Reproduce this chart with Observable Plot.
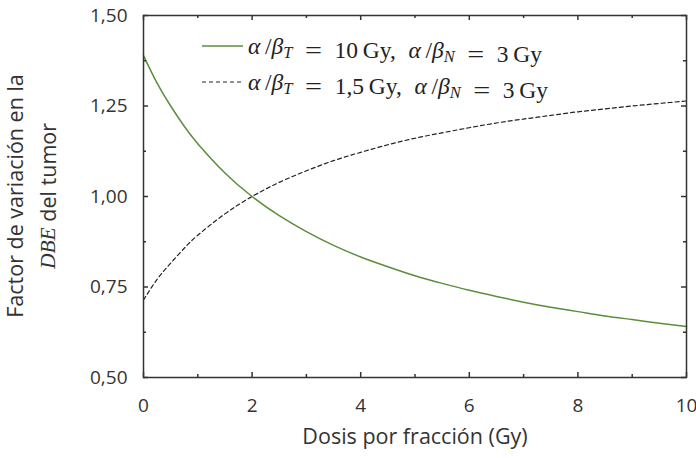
<!DOCTYPE html>
<html><head><meta charset="utf-8">
<script src="https://cdn.jsdelivr.net/npm/d3@7"></script>
<script src="https://cdn.jsdelivr.net/npm/@observablehq/plot@0.6"></script>
<style>body{margin:0;background:#fff}svg{display:block}</style>
</head><body><div id="chart"></div>
<script>
const dose = [0,0.25,0.5,0.75,1,1.5,2,2.5,3,3.5,4,4.5,5,5.5,6,6.5,7,7.5,8,8.5,9,9.5,10];
const seriesA = [1.389,1.313,1.250,1.194,1.146,1.065,1.000,0.947,0.903,0.865,0.833,0.806,0.781,0.760,0.741,0.724,0.708,0.694,0.682,0.670,0.660,0.650,0.641];
const seriesB = [0.714,0.771,0.816,0.857,0.893,0.952,1.000,1.039,1.071,1.099,1.122,1.143,1.161,1.176,1.190,1.203,1.214,1.224,1.234,1.242,1.250,1.257,1.264];
const xMajor = [0,2,4,6,8,10];
const xMinor = [1,3,5,7,9];
const yMajor = [0.5,0.75,1,1.25,1.5];
const yMinor = [0.625,0.875,1.125,1.375];
const xLabel = "Dosis por fracción (Gy)";
const yLabel1 = "Factor de variación en la";
const legendT = ["10", "1,5"];
const legendN = ["3", "3"];

const W = 696, H = 458, mL = 143, mR = 10, mT = 15, mB = 81;
const ph = H - mT - mB, pw = W - mL - mR;
const sans = "'Open Sans', sans-serif";
const fs = 19, fsTitle = 21.5;
const axisColor = "#333";
const fmt = d => d3.format(".2f")(d).replace(".", ",");

const dataA = dose.map((d,i) => ({x:d, y:seriesA[i]}));
const dataB = dose.map((d,i) => ({x:d, y:seriesB[i]}));

const plot = Plot.plot({
  width: W, height: H,
  marginLeft: mL, marginRight: mR, marginTop: mT, marginBottom: mB,
  style: {fontFamily: sans, fontSize: fs + "px", color: "#333", background: "#fff"},
  x: {domain: [0,10]},
  y: {domain: [0.5,1.5]},
  marks: [
    Plot.line(dataB, {x:"x", y:"y", stroke:"#222", strokeWidth:1.2, strokeDasharray:"4,3", curve:"natural"}),
    Plot.line(dataA, {x:"x", y:"y", stroke:"#5b8e3b", strokeWidth:1.5, curve:"natural"}),
    Plot.frame({stroke: axisColor, strokeWidth: 1.5}),
    Plot.tickX(xMajor, {x: d=>d, insetTop: ph-5, stroke: axisColor, strokeWidth:1.5}),
    Plot.tickX(xMajor, {x: d=>d, insetBottom: ph-5, stroke: axisColor, strokeWidth:1.5}),
    Plot.tickX(xMinor, {x: d=>d, insetTop: ph-3, stroke: axisColor, strokeWidth:1.5}),
    Plot.tickX(xMinor, {x: d=>d, insetBottom: ph-3, stroke: axisColor, strokeWidth:1.5}),
    Plot.tickY(yMajor, {y: d=>d, insetRight: pw-5, stroke: axisColor, strokeWidth:1.5}),
    Plot.tickY(yMajor, {y: d=>d, insetLeft: pw-5, stroke: axisColor, strokeWidth:1.5}),
    Plot.tickY(yMinor, {y: d=>d, insetRight: pw-3, stroke: axisColor, strokeWidth:1.5}),
    Plot.tickY(yMinor, {y: d=>d, insetLeft: pw-3, stroke: axisColor, strokeWidth:1.5}),
    Plot.axisX(xMajor, {tickSize:0, tickPadding: 21, tickFormat: d=>String(d), fontSize: fs, fill:"#333", label: null}),
    Plot.axisY(yMajor, {tickSize:0, tickPadding: 16, tickFormat: fmt, fontSize: fs, fill:"#333", label: null}),
    Plot.text([xLabel], {frameAnchor:"bottom", dy: 66, fontSize: fsTitle, fill:"#333"})
  ]
});
document.getElementById("chart").append(plot);

const svg = d3.select(plot);
const cy = mT + ph/2;
svg.append("text")
  .attr("transform", `translate(17,${cy}) rotate(-90)`)
  .attr("text-anchor","middle").attr("dominant-baseline","middle")
  .attr("font-family", sans).attr("font-size", fsTitle).attr("fill","#333")
  .text(yLabel1);
const t2 = svg.append("text")
  .attr("transform", `translate(50,${cy}) rotate(-90)`)
  .attr("text-anchor","middle").attr("dominant-baseline","middle")
  .attr("font-size", fsTitle).attr("fill","#333");
t2.append("tspan").attr("font-family","'Liberation Serif', serif").attr("font-style","italic").text("DBE");
t2.append("tspan").attr("font-family", sans).text(" del tumor");

// legend
const serif = "'Liberation Serif', 'Times New Roman', serif";
const legend = [
  {T: legendT[0], N: legendN[0], y: 46, stroke:"#5b8e3b", dash:null, w:1.5, len:294},
  {T: legendT[1], N: legendN[1], y: 82, stroke:"#222", dash:"4,3", w:1.2, len:300}
];
legend.forEach(L => {
  svg.append("line").attr("x1",202).attr("x2",243).attr("y1",L.y).attr("y2",L.y)
    .attr("stroke",L.stroke).attr("stroke-width",L.w).attr("stroke-dasharray",L.dash);
  const t = svg.append("text").attr("x",248).attr("y",L.y+8)
    .attr("text-anchor","start")
    .attr("font-family", serif).attr("font-size",23.5).attr("fill","#222");
  const eq = () => {
    t.append("tspan").text(" ");
    t.append("tspan").attr("textLength",17).attr("lengthAdjust","spacingAndGlyphs").text("=");
    t.append("tspan").text(" ");
  };
  t.append("tspan").attr("font-style","italic").text("α");
  t.append("tspan").text("\u2009/");
  t.append("tspan").attr("font-style","italic").text("β");
  t.append("tspan").attr("font-style","italic").attr("font-size",16.5).attr("dy",4).text("T");
  t.append("tspan").attr("dy",-4).text("");
  eq();
  t.append("tspan").text(`${L.T}\u2009Gy, `);
  t.append("tspan").attr("font-style","italic").text("α");
  t.append("tspan").text("\u2009/");
  t.append("tspan").attr("font-style","italic").text("β");
  t.append("tspan").attr("font-style","italic").attr("font-size",16.5).attr("dy",4).text("N");
  t.append("tspan").attr("dy",-4).text("");
  eq();
  t.append("tspan").text(`${L.N}\u2009Gy`);
  const w = t.node().getComputedTextLength();
  const ws = Math.max(0, (L.len - w) / 5);
  t.attr("word-spacing", ws);
});
</script></body></html>
